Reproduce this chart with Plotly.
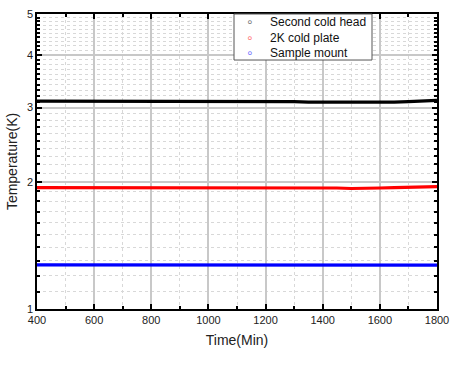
import plotly.graph_objects as go

time_min = [400, 450, 500, 550, 600, 650, 700, 750, 800, 850, 900, 950, 1000, 1050, 1100,
            1150, 1200, 1250, 1300, 1350, 1400, 1450, 1500, 1550, 1600, 1650, 1700, 1750, 1800]
second_cold_head = [3.11, 3.11, 3.11, 3.10, 3.10, 3.10, 3.10, 3.10, 3.10, 3.10, 3.10, 3.10, 3.10, 3.10, 3.10,
                    3.10, 3.10, 3.10, 3.10, 3.09, 3.09, 3.08, 3.08, 3.08, 3.09, 3.09, 3.10, 3.11, 3.12]
cold_plate_2k = [1.94, 1.94, 1.94, 1.94, 1.94, 1.94, 1.94, 1.94, 1.94, 1.935, 1.935, 1.935, 1.935, 1.935, 1.935,
                 1.935, 1.935, 1.935, 1.935, 1.935, 1.935, 1.935, 1.93, 1.93, 1.935, 1.94, 1.945, 1.95, 1.95]
sample_mount = [1.272, 1.272, 1.271, 1.272, 1.272, 1.271, 1.272, 1.272, 1.272, 1.271, 1.272, 1.271, 1.271, 1.271, 1.271,
                1.271, 1.271, 1.271, 1.271, 1.271, 1.271, 1.271, 1.270, 1.271, 1.271, 1.270, 1.270, 1.270, 1.270]

series_names = ["Second cold head", "2K cold plate", "Sample mount"]
series_values = [second_cold_head, cold_plate_2k, sample_mount]
series_colors = ["#000000", "#ff0000", "#0000ff"]
legend_marker_colors = ["#777777", "#ff7777", "#7777ff"]

y_major = [1, 2, 3, 4, 5]
y_minor = [round(v / 10, 1) for v in range(11, 50) if v % 10 != 0]
x_major = [400, 600, 800, 1000, 1200, 1400, 1600, 1800]
x_minor = [500, 700, 900, 1100, 1300, 1500, 1700]

fig = go.Figure()
for name, vals, col in zip(series_names, series_values, series_colors):
    fig.add_trace(go.Scatter(x=time_min, y=vals, mode="lines", name=name,
                             line=dict(color=col, width=3.2), showlegend=False, hoverinfo="skip"))

font = "Liberation Sans, Arial, sans-serif"

# custom compact legend (box + marker column + label column)
fig.add_shape(type="rect", xref="paper", yref="paper", x0=0.4925, x1=0.8375, y0=0.844, y1=1.0,
              line=dict(color="#555555", width=1), fillcolor="white", layer="above")
fig.add_annotation(xref="paper", yref="paper", x=0.5325, y=0.922, xanchor="center", yanchor="middle",
                   showarrow=False, align="center", font=dict(size=12, family="DejaVu Sans"),
                   text="<br>".join(f'<span style="color:{c}">∘</span>' for c in legend_marker_colors))
fig.add_annotation(xref="paper", yref="paper", x=0.5775, y=0.922, xanchor="left", yanchor="middle",
                   showarrow=False, align="left", font=dict(size=12, family=font, color="#111"),
                   text="<br>".join(series_names))

fig.update_layout(
    width=455, height=368,
    margin=dict(l=37, r=18, t=14, b=59),
    paper_bgcolor="white", plot_bgcolor="white",
    font=dict(family=font, size=11, color="#222"),
    showlegend=False,
    xaxis=dict(range=[400, 1800], tickvals=x_major, ticks="inside", ticklen=5, tickwidth=1.5,
               tickcolor="black", showline=True, linecolor="black", linewidth=1.5, mirror="allticks",
               showgrid=True, gridcolor="#c8c8c8", gridwidth=1.5, zeroline=False, automargin=False,
               title=dict(text="Time(Min)", font=dict(size=14), standoff=10),
               minor=dict(tickvals=x_minor, ticks="inside", ticklen=3, tickcolor="black",
                          showgrid=True, gridcolor="#d8d8d8", griddash="dot", gridwidth=1)),
    yaxis=dict(type="log", range=[0, 0.69897], tickvals=y_major, ticktext=[str(v) for v in y_major],
               ticks="inside", ticklen=5, tickwidth=1.5, tickcolor="black",
               showline=True, linecolor="black", linewidth=1.5, mirror="allticks",
               showgrid=True, gridcolor="#c8c8c8", gridwidth=1.5, zeroline=False, automargin=False,
               title=dict(text="Temperature(K)", font=dict(size=14), standoff=6),
               minor=dict(tickvals=y_minor, ticks="inside", ticklen=3, tickcolor="black",
                          showgrid=True, gridcolor="#d8d8d8", griddash="dot", gridwidth=1)),
)
fig.write_html("out.html", post_script="document.body.style.margin='0';",
               config={"displayModeBar": False})
